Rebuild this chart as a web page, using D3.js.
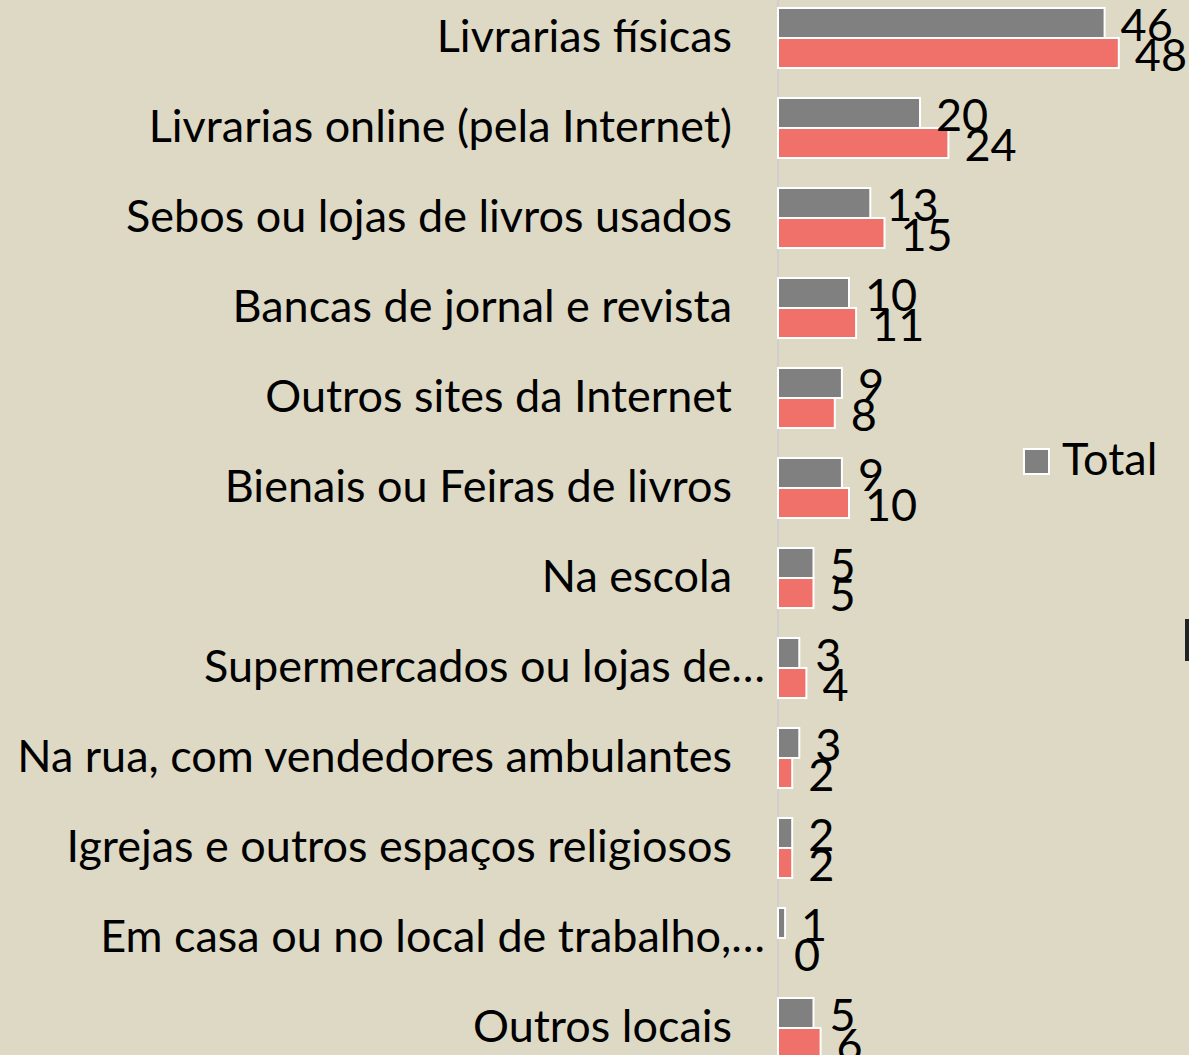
<!DOCTYPE html>
<html><head><meta charset="utf-8">
<script src="https://cdn.jsdelivr.net/npm/d3@7"></script>
<style>html,body{margin:0;padding:0;background:#ddd9c4;overflow:hidden}</style>
</head><body>
<svg id="c" width="1189" height="1055"></svg>
<script>
const categories = ["Livrarias físicas","Livrarias online (pela Internet)","Sebos ou lojas de livros usados","Bancas de jornal e revista","Outros sites da Internet","Bienais ou Feiras de livros","Na escola","Supermercados ou lojas de…","Na rua, com vendedores ambulantes","Igrejas e outros espaços religiosos","Em casa ou no local de trabalho,…","Outros locais"];
const totalValues = [46,20,13,10,9,9,5,3,3,2,1,5];
const secondValues = [48,24,15,11,8,10,5,4,2,2,0,6];
const seriesNames = ["Total","Compradores"];

const svg = d3.select("#c");
const W = 1189, H = 1055;
const font = "Lato, 'Open Sans', sans-serif";
svg.append("rect").attr("width",W).attr("height",H).attr("fill","#ddd9c4");

// calibrate font size against longest label width
const probe = svg.append("text").attr("font-family",font).attr("font-size",40).text("Na rua, com vendedores ambulantes");
const w40 = probe.node().getComputedTextLength();
probe.remove();
const fs = 40 * 715 / w40;

const x0 = 778;
const x = d3.scaleLinear().domain([0,50]).range([x0, x0+355]);
const y = d3.scaleBand().domain(categories).range([-7, 1073]).paddingInner(1/3).paddingOuter(1/6);
const sub = d3.scaleBand().domain(seriesNames).range([0, y.bandwidth()]).padding(0);
const colors = {"Total":"#808080","Compradores":"#f0706a"};

// axis line
svg.append("line").attr("x1",x0).attr("x2",x0).attr("y1",0).attr("y2",H).attr("stroke","#cfcfcf").attr("stroke-width",2);

const data = categories.map((c,i)=>({c, vals:[{s:"Total",v:totalValues[i]},{s:"Compradores",v:secondValues[i]}]}));
const g = svg.selectAll("g.cat").data(data).join("g").attr("transform",d=>`translate(0,${y(d.c)})`);
g.selectAll("rect").data(d=>d.vals).join("rect")
  .attr("x",x0).attr("y",d=>sub(d.s))
  .attr("width",d=>x(d.v)-x0).attr("height",sub.bandwidth())
  .attr("fill",d=>colors[d.s]).attr("stroke","#ffffff").attr("stroke-width",2);
g.selectAll("text.val").data(d=>d.vals).join("text").attr("class","val")
  .attr("x",d=>x(d.v)+16).attr("y",d=>sub(d.s)+sub.bandwidth()/2+14 + (d.s==="Total"?4:4))
  .attr("font-family",font).attr("font-size",fs).attr("fill","#000").text(d=>d.v);

// category labels
svg.append("g").selectAll("text").data(categories).join("text")
  .attr("x",d=>d.endsWith("…")?765:732).attr("y",d=>y(d)+y.bandwidth()/2+14)
  .attr("text-anchor","end").attr("font-family",font).attr("font-size",fs).attr("fill","#000").text(d=>d);

// legend
const lg = svg.append("g").attr("transform","translate(1024,449)");
lg.append("rect").attr("width",25).attr("height",25).attr("fill",colors["Total"]).attr("stroke","#fff").attr("stroke-width",2);
lg.append("text").attr("x",38).attr("y",26).attr("font-family",font).attr("font-size",fs).text(seriesNames[0]);
// clipped second legend entry
svg.append("rect").attr("x",1185).attr("y",619).attr("width",4).attr("height",42).attr("fill","#222");
</script>
</body></html>
